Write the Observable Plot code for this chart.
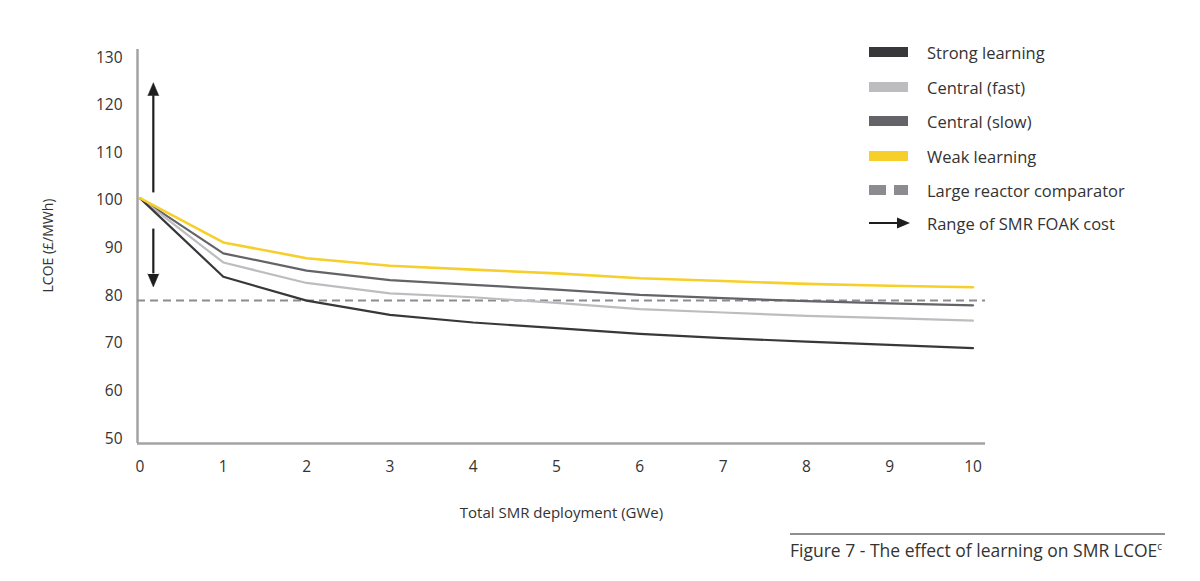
<!DOCTYPE html>
<html>
<head>
<meta charset="utf-8">
<script src="https://cdn.jsdelivr.net/npm/d3@7"></script>
<script src="https://cdn.jsdelivr.net/npm/@observablehq/plot@0.6"></script>
<style>
  html, body { margin: 0; padding: 0; background: #fff; }
  body { width: 1200px; height: 581px; position: relative; overflow: hidden; font-family: "Open Sans", sans-serif; color: #333; }
  #chart { position: absolute; left: 0; top: 0; }
  #legend { position: absolute; left: 869px; top: 0; }
  .row { position: absolute; left: 0; height: 20px; display: flex; align-items: center; white-space: nowrap; font-size: 16.5px; color: #333; }
  .row svg { width: 44px; height: 20px; margin-right: 14px; }
  #caption { position: absolute; left: 790px; top: 533px; width: 375px; border-top: 2px solid #8f8f8f; padding-top: 3px; font-size: 17.5px; color: #333; white-space: nowrap; }
  #caption sup { font-size: 10px; }
</style>
</head>
<body>
<div id="chart"></div>
<div id="legend"></div>
<div id="caption">Figure 7 - The effect of learning on SMR LCOE<sup>c</sup></div>
<script>
// ---- data ----
const deployment = [0, 1, 2, 3, 4, 5, 6, 7, 8, 9, 10];
const strongLearning = [100.5, 84.0, 79.0, 76.0, 74.4, 73.2, 72.0, 71.1, 70.4, 69.7, 69.0];
const centralFast    = [100.5, 87.0, 82.7, 80.5, 79.7, 78.5, 77.2, 76.5, 75.8, 75.3, 74.8];
const centralSlow    = [100.5, 88.9, 85.3, 83.3, 82.3, 81.3, 80.2, 79.5, 78.9, 78.4, 78.0];
const weakLearning   = [100.5, 91.2, 87.9, 86.3, 85.5, 84.7, 83.7, 83.1, 82.5, 82.1, 81.8];
const largeReactor = 79;
const foakUp = [101.6, 122.0];   // shaft from, head base (arrowhead tip ~124.5)
const foakDown = [94.0, 84.6];   // shaft from, head base (arrowhead tip ~82)
const foakX = 0.16;
const yTicks = [50, 60, 70, 80, 90, 100, 110, 120, 130];
const xTicks = [0, 1, 2, 3, 4, 5, 6, 7, 8, 9, 10];
const seriesNames = ["Strong learning", "Central (fast)", "Central (slow)", "Weak learning", "Large reactor comparator", "Range of SMR FOAK cost"];
const colors = { strong: "#38383a", fast: "#bdbdbf", slow: "#636368", weak: "#f7cf2b", large: "#8c8c90", arrow: "#1e1e1e" };

const toRows = arr => deployment.map((x, i) => ({ x, y: arr[i] }));

const xDomain = [-0.03, 10.15];
const yDomain = [49, 131.7];

const plot = Plot.plot({
  width: 1200,
  height: 525,
  marginLeft: 137,
  marginRight: 215,
  marginTop: 49,
  marginBottom: 82,
  style: { fontFamily: "Open Sans, sans-serif", color: "#333", background: "transparent" },
  x: { domain: xDomain },
  y: { domain: yDomain },
  marks: [
    Plot.axisY({ ticks: yTicks, tickSize: 0, tickPadding: 15, fontSize: 15.5, label: null }),
    Plot.axisX({ ticks: xTicks, tickSize: 0, tickPadding: 17, fontSize: 15.5, label: null }),
    Plot.ruleX([xDomain[0]], { stroke: "#a3a3a3", strokeWidth: 2.5 }),
    Plot.ruleY([yDomain[0]], { stroke: "#a3a3a3", strokeWidth: 2.5 }),
    Plot.ruleY([largeReactor], { x1: xDomain[0], x2: xDomain[1], stroke: colors.large, strokeWidth: 2, strokeDasharray: "8,5" }),
    Plot.line(toRows(centralSlow), { x: "x", y: "y", stroke: colors.slow, strokeWidth: 2.2 }),
    Plot.line(toRows(centralFast), { x: "x", y: "y", stroke: colors.fast, strokeWidth: 2.2 }),
    Plot.line(toRows(strongLearning), { x: "x", y: "y", stroke: colors.strong, strokeWidth: 2.2 }),
    Plot.line(toRows(weakLearning), { x: "x", y: "y", stroke: colors.weak, strokeWidth: 2.6 }),
    Plot.ruleX([foakX], { y1: foakUp[0], y2: foakUp[1], stroke: colors.arrow, strokeWidth: 2.2 }),
    Plot.ruleX([foakX], { y1: foakDown[0], y2: foakDown[1], stroke: colors.arrow, strokeWidth: 2.2 }),
    Plot.vector([{ x: foakX, y: foakUp[1] }], { x: "x", y: "y", length: 13, rotate: 0, shape: "spike", r: 5.5, anchor: "start", fill: colors.arrow, stroke: colors.arrow, strokeWidth: 0.5 }),
    Plot.vector([{ x: foakX, y: foakDown[1] }], { x: "x", y: "y", length: 13, rotate: 180, shape: "spike", r: 5.5, anchor: "start", fill: colors.arrow, stroke: colors.arrow, strokeWidth: 0.5 }),
    Plot.text(["Total SMR deployment (GWe)"], { frameAnchor: "bottom", dy: 74, fontSize: 15, fill: "#333" }),
    Plot.text(["LCOE (£/MWh)"], { frameAnchor: "left", textAnchor: "middle", dx: -89, dy: -1, rotate: -90, fontSize: 14, fill: "#333" })
  ]
});
document.getElementById("chart").appendChild(plot);

// ---- legend ----
const rowsY = [52, 87, 121, 156, 190, 223];
const swatches = [
  `<rect x="0" y="5" width="39" height="10" fill="${colors.strong}"/>`,
  `<rect x="0" y="5" width="39" height="10" fill="${colors.fast}"/>`,
  `<rect x="0" y="5" width="39" height="10" fill="${colors.slow}"/>`,
  `<rect x="0" y="5" width="39" height="10" fill="${colors.weak}"/>`,
  `<rect x="0" y="5" width="17" height="10" fill="${colors.large}"/><rect x="25" y="5" width="14" height="10" fill="${colors.large}"/>`,
  `<line x1="0" y1="10" x2="30" y2="10" stroke="${colors.arrow}" stroke-width="2"/><path d="M28,4.5 L41,10 L28,15.5 Z" fill="${colors.arrow}"/>`
];
const legend = document.getElementById("legend");
seriesNames.forEach((name, i) => {
  const row = document.createElement("div");
  row.className = "row";
  row.style.top = (rowsY[i] - 10) + "px";
  row.innerHTML = `<svg viewBox="0 0 44 20">${swatches[i]}</svg><span>${name}</span>`;
  legend.appendChild(row);
});
</script>
</body>
</html>
